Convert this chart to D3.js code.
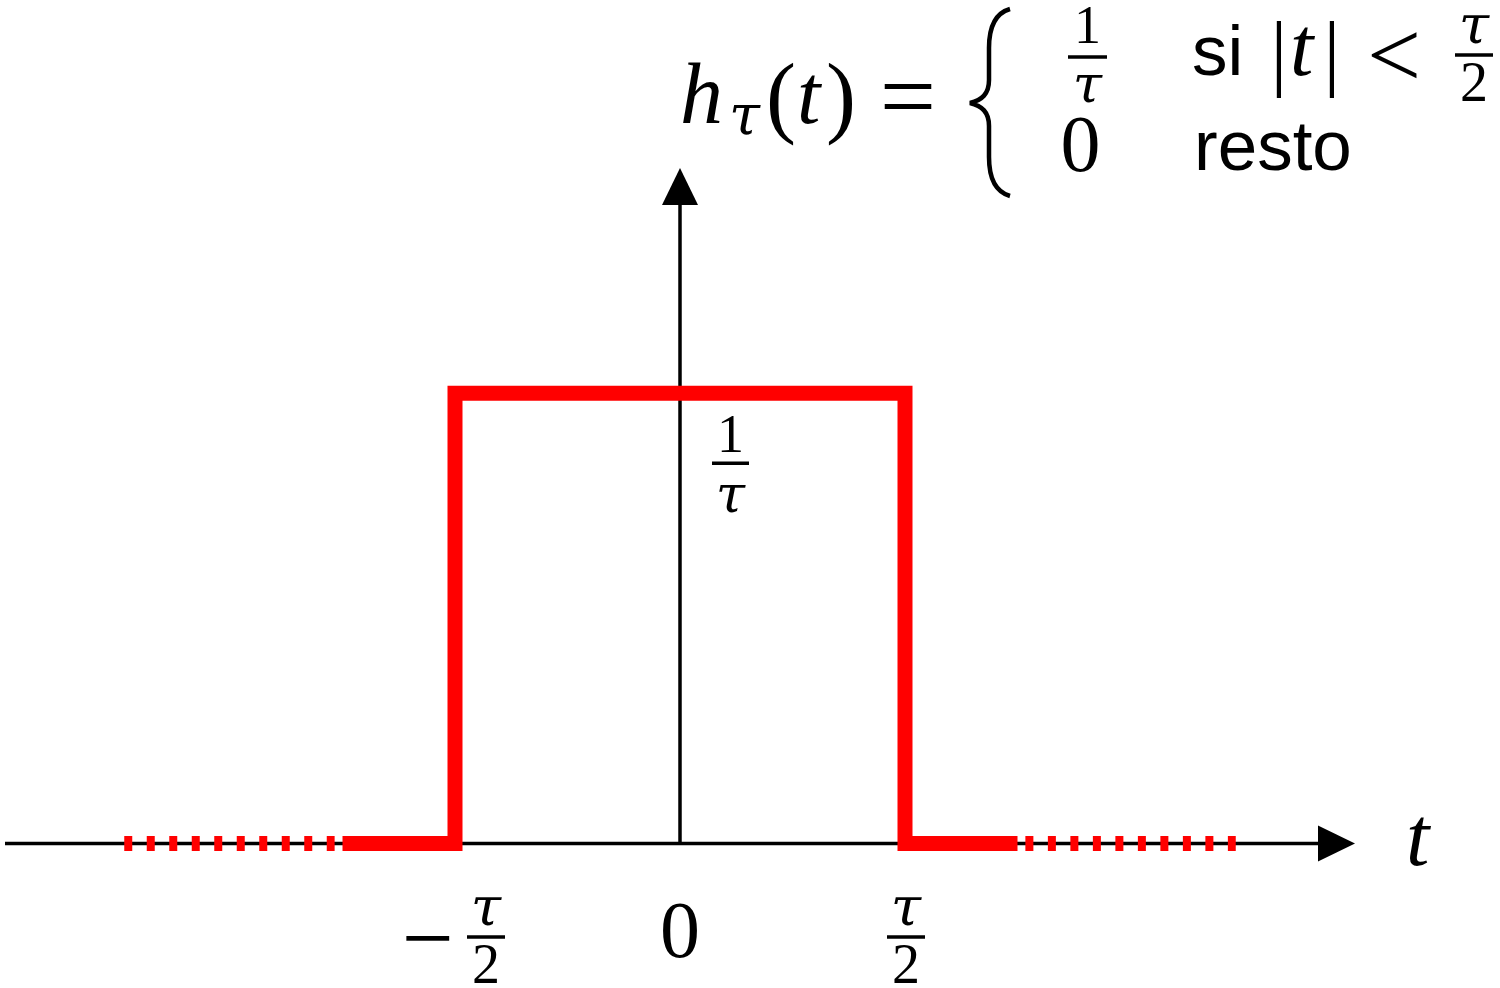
<!DOCTYPE html>
<html>
<head>
<meta charset="utf-8">
<script src="https://cdn.jsdelivr.net/npm/d3@7"></script>
<style>
  html, body { margin: 0; padding: 0; background: #fff; }
  svg { display: block; }
</style>
</head>
<body>
<svg id="chart" width="1500" height="988"></svg>
<script>
// ---- data ----
const xDomain = [-3, 3];
const yDomain = [0, 1.5];
const pulseT = [-1.5, -1, -1, 1, 1, 1.5];
const pulseH = [0, 0, 1, 1, 0, 0];
const dashedLeft = [-2.47, -1.535];
const dashedRight = [1.535, 2.47];
const xTicks = [-1, 0, 1];
const xTickLabels = ["−τ/2", "0", "τ/2"];
const yLevel = 1;
const yLevelLabel = "1/τ";
const axisLabelX = "t";

// ---- setup ----
const SERIF = "'Liberation Serif', 'Times New Roman', serif";
const TAUF = "'DejaVu Serif', 'Liberation Serif', serif";
const SANS = "'Liberation Sans', Arial, sans-serif";
const svg = d3.select("#chart");
const x = d3.scaleLinear().domain(xDomain).range([5, 1355]);
const y = d3.scaleLinear().domain(yDomain).range([843.5, 168]);

const RED = "#ff0000";
const axisW = 3.5;

// ---- axes ----
const y0 = y(0);
const arrowLen = 37, arrowHalf = 18;
svg.append("line")
  .attr("x1", x(xDomain[0])).attr("x2", x(xDomain[1]) - arrowLen + 2)
  .attr("y1", y0).attr("y2", y0)
  .attr("stroke", "#000").attr("stroke-width", axisW);
svg.append("line")
  .attr("x1", x(0)).attr("x2", x(0))
  .attr("y1", y0).attr("y2", y(yDomain[1]) + arrowLen - 2)
  .attr("stroke", "#000").attr("stroke-width", axisW);

const xt = x(xDomain[1]);
svg.append("path")
  .attr("d", `M${xt},${y0} L${xt - arrowLen},${y0 - arrowHalf} L${xt - arrowLen},${y0 + arrowHalf} Z`)
  .attr("fill", "#000");
const yt = y(yDomain[1]);
svg.append("path")
  .attr("d", `M${x(0)},${yt} L${x(0) - arrowHalf},${yt + arrowLen} L${x(0) + arrowHalf},${yt + arrowLen} Z`)
  .attr("fill", "#000");

// ---- pulse ----
const line = d3.line().x(d => x(d[0])).y(d => y(d[1]));
const pulsePts = pulseT.map((t, i) => [t, pulseH[i]]);
svg.append("path")
  .attr("d", line(pulsePts))
  .attr("fill", "none")
  .attr("stroke", RED)
  .attr("stroke-width", 15)
  .attr("stroke-linejoin", "miter")
  .attr("stroke-linecap", "butt");

[dashedLeft, dashedRight].forEach(seg => {
  svg.append("path")
    .attr("d", line(seg.map(t => [t, 0])))
    .attr("fill", "none")
    .attr("stroke", RED)
    .attr("stroke-width", 15)
    .attr("stroke-dasharray", "8,14.5");
});

// ---- helpers ----
function glyph(g, str, xx, yy, fs, isDen) {
  const isTau = str === "τ";
  return g.append("text")
    .attr("x", xx).attr("y", yy + (isTau && isDen ? 3 : 0))
    .attr("text-anchor", "middle")
    .attr("font-family", isTau ? TAUF : SERIF)
    .attr("font-size", isTau ? fs * 0.98 : fs)
    .attr("font-style", isTau ? "italic" : "normal")
    .text(str);
}
function fraction(g, cx, barY, num, den, opts) {
  g.append("line")
    .attr("x1", cx - opts.barW / 2).attr("x2", cx + opts.barW / 2)
    .attr("y1", barY).attr("y2", barY)
    .attr("stroke", "#000").attr("stroke-width", opts.barT || 3.5);
  glyph(g, num, cx, barY + opts.numDy, opts.fs, false);
  glyph(g, den, cx, barY + opts.denDy, opts.fs, true);
}

// ---- x tick labels ----
const tickG = svg.append("g");
xTicks.forEach((v, i) => {
  const lab = xTickLabels[i];
  const cx = x(v);
  if (lab.includes("/")) {
    let s = lab, neg = false;
    if (s.startsWith("−")) { neg = true; s = s.slice(1); }
    const [n, d] = s.split("/");
    const fcx = neg ? cx + 31 : cx + 1;
    fraction(tickG, fcx, 937, n, d, { fs: 56, barW: 38, numDy: -12, denDy: 46 });
    if (neg) {
      tickG.append("text")
        .attr("x", cx - 27).attr("y", 969)
        .attr("text-anchor", "middle")
        .attr("font-family", SERIF).attr("font-size", 92)
        .text("−");
    }
  } else {
    tickG.append("text")
      .attr("x", cx).attr("y", 957)
      .attr("text-anchor", "middle")
      .attr("font-family", SERIF).attr("font-size", 80)
      .text(lab);
  }
});

// ---- y level label ----
{
  const [n, d] = yLevelLabel.split("/");
  fraction(svg.append("g"), x(0) + 50.5, y(yLevel) + 70, n, d, { fs: 54, barW: 37, numDy: -11, denDy: 46 });
}

// ---- axis label ----
svg.append("text")
  .attr("x", 1406).attr("y", 865)
  .attr("font-family", SERIF).attr("font-size", 84)
  .attr("font-style", "italic")
  .text(axisLabelX);

// ---- formula ----
const F = svg.append("g");
F.append("text").attr("x", 680).attr("y", 123)
  .attr("font-family", SERIF).attr("font-size", 86).attr("font-style", "italic").text("h");
F.append("text").attr("x", 729).attr("y", 134)
  .attr("font-family", TAUF).attr("font-size", 56).attr("font-style", "italic").text("τ");
F.append("text").attr("x", 766).attr("y", 126)
  .attr("font-family", SERIF).attr("font-size", 90).text("(");
F.append("text").attr("x", 797).attr("y", 123)
  .attr("font-family", SERIF).attr("font-size", 84).attr("font-style", "italic").text("t");
F.append("text").attr("x", 826).attr("y", 126)
  .attr("font-family", SERIF).attr("font-size", 90).text(")");
F.append("text").attr("x", 908).attr("y", 130)
  .attr("text-anchor", "middle")
  .attr("font-family", SERIF).attr("font-size", 100).text("=");
// brace
F.append("path")
  .attr("d", "M1010,9 C996,13 989,26 989,48 L989,80 C989,94 982,100 970,103 C982,106 989,112 989,126 L989,157 C989,179 996,192 1010,196")
  .attr("fill", "none").attr("stroke", "#000").attr("stroke-width", 4.5);
// first case
fraction(F, 1087.5, 57, "1", "τ", { fs: 54, barW: 39, numDy: -14, denDy: 42 });
F.append("text").attr("x", 1192).attr("y", 75)
  .attr("font-family", SANS).attr("font-size", 71).text("si");
F.append("text").attr("x", 1279).attr("y", 80)
  .attr("text-anchor", "middle")
  .attr("font-family", SERIF).attr("font-size", 84).text("|");
F.append("text").attr("x", 1290).attr("y", 75)
  .attr("font-family", SERIF).attr("font-size", 84).attr("font-style", "italic").text("t");
F.append("text").attr("x", 1332).attr("y", 80)
  .attr("text-anchor", "middle")
  .attr("font-family", SERIF).attr("font-size", 84).text("|");
F.append("text").attr("x", 1394).attr("y", 87)
  .attr("text-anchor", "middle")
  .attr("font-family", SERIF).attr("font-size", 96).text("<");
fraction(F, 1474, 55, "τ", "2", { fs: 56, barW: 38, numDy: -12, denDy: 46 });
// second case
F.append("text").attr("x", 1080.5).attr("y", 171)
  .attr("text-anchor", "middle")
  .attr("font-family", SERIF).attr("font-size", 80).text("0");
F.append("text").attr("x", 1194).attr("y", 170)
  .attr("font-family", SANS).attr("font-size", 71).text("resto");
</script>
</body>
</html>
